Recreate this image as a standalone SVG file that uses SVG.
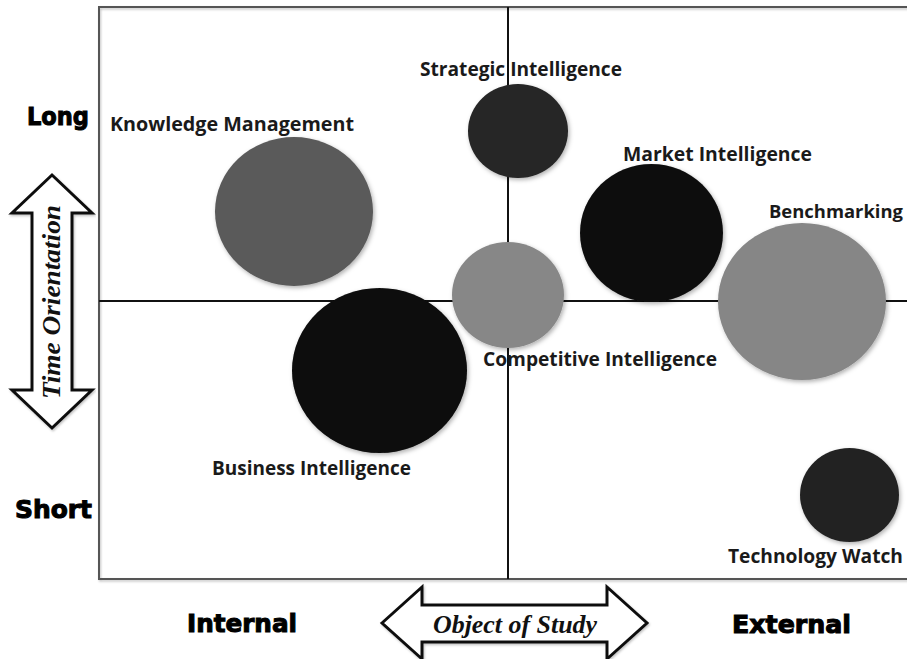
<svg xmlns="http://www.w3.org/2000/svg" width="907" height="659" viewBox="0 0 907 659">
  <defs>
    <filter id="soft" x="-20%" y="-20%" width="140%" height="140%">
      <feDropShadow dx="1.5" dy="2" stdDeviation="2" flood-color="#000" flood-opacity="0.3"/>
    </filter>
    <filter id="lineShadow" x="-5%" y="-5%" width="110%" height="110%">
      <feDropShadow dx="1" dy="1.5" stdDeviation="1.2" flood-color="#000" flood-opacity="0.25"/>
    </filter>
  </defs>
  <style>
    .frame { fill: none; stroke: #555; stroke-width: 2; }
    .axis { stroke: #111; stroke-width: 2; }
    .bubble { filter: url(#soft); }
    .label { font-family: "Open Sans", "Liberation Sans", sans-serif; font-weight: bold; font-size: 19.5px; fill: #1a1a1a; }
    .pole { font-family: "DejaVu Sans", "Liberation Sans", sans-serif; font-weight: bold; font-size: 24px; fill: #000; stroke: #000; stroke-width: 1; }
    .arrow { fill: #fff; stroke: #111; stroke-width: 3; stroke-linejoin: miter; filter: url(#lineShadow); }
    .arrowText { font-family: "Liberation Serif", "DejaVu Serif", serif; font-style: italic; font-weight: bold; font-size: 25px; fill: #111; }
  </style>

  <rect width="907" height="659" fill="#fff"/>

  <!-- quadrant frame and axes -->
  <g id="axes">
    <path class="frame" d="M 920 7 H 99 V 579 H 920" filter="url(#lineShadow)"/>
    <line class="axis" x1="99" y1="301" x2="907" y2="301"/>
    <line class="axis" x1="508" y1="7" x2="508" y2="579"/>
  </g>

  <!-- bubbles -->
  <g id="knowledge-management">
    <ellipse class="bubble" cx="294" cy="211.5" rx="79" ry="74.5" fill="#5a5a5a"/>
    <text class="label" x="110" y="131" textLength="244" lengthAdjust="spacingAndGlyphs">Knowledge Management</text>
  </g>
  <g id="strategic-intelligence">
    <ellipse class="bubble" cx="518" cy="131" rx="50" ry="47" fill="#252525"/>
    <text class="label" x="420" y="76" textLength="202" lengthAdjust="spacingAndGlyphs">Strategic Intelligence</text>
  </g>
  <g id="market-intelligence">
    <ellipse class="bubble" cx="651.5" cy="233" rx="71.5" ry="69" fill="#0b0b0b"/>
    <text class="label" x="623" y="161" textLength="189" lengthAdjust="spacingAndGlyphs">Market Intelligence</text>
  </g>
  <g id="benchmarking">
    <ellipse class="bubble" cx="802" cy="301.5" rx="84" ry="78.5" fill="#868686"/>
    <text class="label" x="769" y="218" font-size="18.5" textLength="134" lengthAdjust="spacingAndGlyphs" style="font-size:18.5px">Benchmarking</text>
  </g>
  <g id="competitive-intelligence">
    <ellipse class="bubble" cx="508" cy="295" rx="56" ry="53" fill="#878787"/>
    <text class="label" x="483" y="366" textLength="234" lengthAdjust="spacingAndGlyphs">Competitive Intelligence</text>
  </g>
  <g id="business-intelligence">
    <ellipse class="bubble" cx="379.5" cy="370.5" rx="87.5" ry="82.5" fill="#080808"/>
    <text class="label" x="212" y="475" textLength="199" lengthAdjust="spacingAndGlyphs">Business Intelligence</text>
  </g>
  <g id="technology-watch">
    <ellipse class="bubble" cx="849.5" cy="495" rx="49.5" ry="47" fill="#222"/>
    <text class="label" x="728" y="563" textLength="175" lengthAdjust="spacingAndGlyphs">Technology Watch</text>
  </g>

  <!-- axis pole labels -->
  <g id="poles">
    <text class="pole" x="27" y="125" textLength="62" lengthAdjust="spacingAndGlyphs">Long</text>
    <text class="pole" x="15" y="518" textLength="77" lengthAdjust="spacingAndGlyphs">Short</text>
    <text class="pole" x="187" y="632" textLength="110" lengthAdjust="spacingAndGlyphs">Internal</text>
    <text class="pole" x="732" y="633" textLength="119" lengthAdjust="spacingAndGlyphs">External</text>
  </g>

  <!-- time orientation double arrow -->
  <g id="time-orientation">
    <path class="arrow" d="M 52 175 L 92 213 H 72 V 390 H 92 L 52 428 L 12 390 H 32 V 213 H 12 Z"/>
    <text class="arrowText" transform="translate(60 302) rotate(-90)" text-anchor="middle" textLength="194" lengthAdjust="spacingAndGlyphs">Time Orientation</text>
  </g>

  <!-- object of study double arrow -->
  <g id="object-of-study">
    <path class="arrow" d="M 382 623 L 422 587 V 605 H 607 V 587 L 647 623 L 607 659 V 642 H 422 V 659 Z"/>
    <text class="arrowText" x="433" y="633" textLength="164" lengthAdjust="spacingAndGlyphs">Object of Study</text>
  </g>
</svg>
